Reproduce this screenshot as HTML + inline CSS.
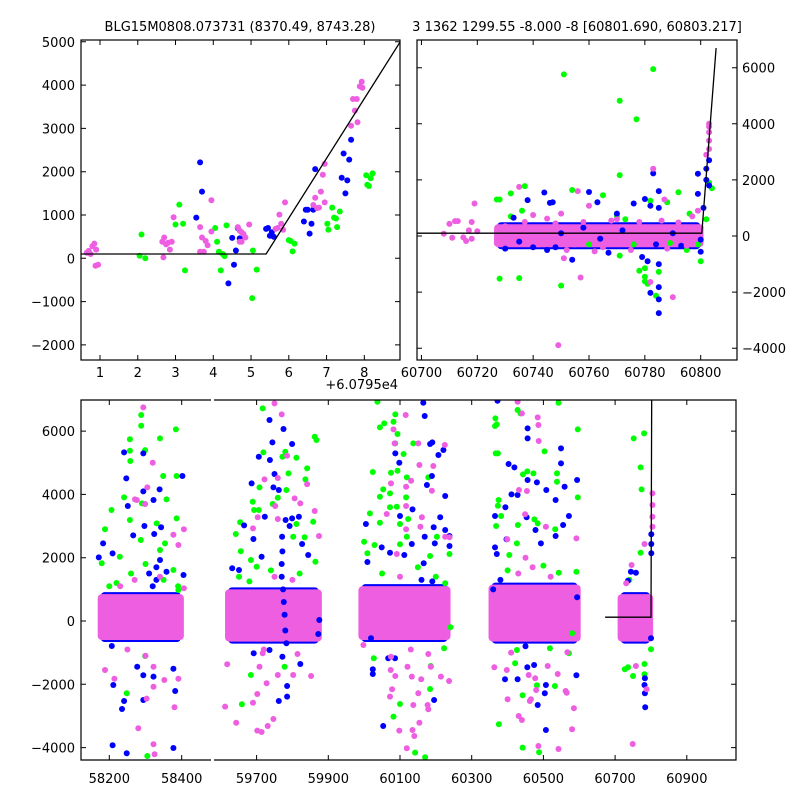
<!DOCTYPE html>
<html><head><meta charset="utf-8">
<style>
html,body{margin:0;padding:0;background:#fff;}
svg{display:block;font-family:"DejaVu Sans","Liberation Sans",sans-serif;font-size:13px;}
</style></head>
<body>
<svg id="chart" width="800" height="800" viewBox="0 0 800 800">
<defs>
<clipPath id="cTL"><rect x="81" y="40" width="319" height="320"/></clipPath>
<clipPath id="cTR"><rect x="417" y="40" width="320" height="320"/></clipPath>
<clipPath id="cB1"><rect x="81" y="400" width="130" height="360"/></clipPath>
<clipPath id="cB2"><rect x="214" y="400" width="522" height="360"/></clipPath>
</defs>
<rect width="800" height="800" fill="#fff"/>
<text x="240" y="31" text-anchor="middle">BLG15M0808.073731 (8370.49, 8743.28)</text>
<text x="577" y="31" text-anchor="middle">3 1362 1299.55 -8.000 -8 [60801.690, 60803.217]</text>
<text x="398" y="389" text-anchor="end">+6.0795e4</text>
<g id="gTL"></g>
<g id="gTR"></g>
<g id="gB"></g>
</svg>
<script>
// ---------- data: top-left zoom panel (x = MJD - 60795) ----------
const tlPink=[[0.65,130],[0.7,170],[0.75,100],[0.8,280],[0.85,340],[0.9,200],[0.88,-170],[0.95,-150],[2.65,380],[2.7,480],[2.75,320],[2.8,360],[2.85,200],[2.9,380],[2.68,20],[2.95,950],[3.65,720],[3.7,480],[3.8,400],[3.65,150],[3.75,150],[3.85,300],[3.95,620],[3.95,1340],[4.65,720],[4.7,640],[4.75,600],[4.8,560],[4.85,480],[4.7,380],[4.75,380],[4.95,780],[5.65,680],[5.7,700],[5.75,1010],[5.8,800],[5.85,660],[5.9,1290],[6.65,1230],[6.7,1400],[6.75,1160],[6.8,1170],[6.85,1540],[6.9,1930],[6.95,1290],[6.95,2180],[7.65,3060],[7.7,3680],[7.75,3410],[7.8,3680],[7.82,3140],[7.88,3970],[7.93,4077],[7.95,3940]];
const tlBlue=[[3.65,2215],[3.7,1540],[3.55,940],[4.5,470],[4.55,-150],[4.4,-580],[4.6,180],[4.65,700],[4.7,460],[5.4,680],[5.45,700],[5.5,520],[5.55,600],[5.6,500],[6.4,850],[6.45,1120],[6.5,1120],[6.55,570],[6.6,800],[6.65,1120],[6.7,2060],[7.4,1860],[7.45,2420],[7.5,1500],[7.55,1800],[7.6,2280],[7.65,2740]];
const tlGreen=[[2.05,60],[2.1,550],[2.2,0],[3.0,780],[3.1,1240],[3.2,800],[3.25,-280],[4.05,700],[4.1,380],[4.15,150],[4.2,-280],[4.25,100],[4.3,50],[4.35,760],[5.05,180],[5.03,-920],[5.15,-260],[6.0,420],[6.05,400],[6.1,160],[6.15,340],[7.05,660],[7.02,800],[7.15,1170],[7.2,940],[7.25,920],[7.28,720],[7.35,1080],[8.05,1920],[8.08,1700],[8.12,1670],[8.17,1850],[8.22,1960]];
const tlLineX=[0.47,5.4,8.95];
const tlLineY=[100,100,5000];
const tlXTicks=[1,2,3,4,5,6,7,8];
const tlYTicks=[-2000,-1000,0,1000,2000,3000,4000,5000];

// ---------- data: top-right panel ----------
const trCore=[[60726,60801,-400,420]];
const trPink=[[60708,80],[60710,430],[60711,-60],[60712,530],[60713,530],[60715,-50],[60716,-180],[60717,200],[60718,500],[60719,1160],[60720,170],[60718,-100],[60735,1750],[60749,-3890],[60751,-790],[60757,-1480],[60756,1600],[60760,1080],[60790,-2180],[60783,2400],[60782,-1640],[60787,1300],[60803,4000],[60803,3700],[60803,3400],[60803,3100],[60802,2900],[60803,3900],[60740,750],[60745,620],[60750,800],[60755,-300],[60765,-400],[60770,600],[60727,-250],[60730,350],[60797,700],[60799,900],[60728,100],[60733,-100],[60742,-300],[60752,-500],[60762,-550],[60775,-500],[60788,-450],[60795,-350],[60800,300],[60737,500],[60748,450],[60758,500],[60768,550],[60778,500],[60786,550],[60792,480]];
const trBlue=[[60738,1280],[60744,1550],[60746,1180],[60747,1200],[60760,1570],[60763,1200],[60776,1160],[60780,1320],[60782,1080],[60783,2230],[60785,1600],[60785,1000],[60785,-1000],[60785,-1820],[60785,-2260],[60785,-2750],[60782,-2030],[60781,-900],[60779,-750],[60754,-850],[60767,-600],[60730,-450],[60745,-500],[60748,-400],[60799,2220],[60799,1500],[60800,-560],[60800,-130],[60802,2400],[60802,2000],[60803,2700],[60803,1800],[60801,1000],[60740,-400],[60770,800],[60758,300],[60793,-350],[60733,650],[60735,-200],[60750,100],[60764,-100],[60772,200],[60784,-300],[60790,100]];
const trGreen=[[60727,1300],[60728,1300],[60728,-1520],[60732,1520],[60735,-1500],[60737,1780],[60732,700],[60736,900],[60750,-1770],[60751,5760],[60754,1640],[60765,1450],[60771,4820],[60771,2170],[60771,-700],[60777,4160],[60783,5950],[60778,-1240],[60780,-1150],[60780,-1450],[60780,-1620],[60781,-1700],[60784,-2130],[60785,-1280],[60782,1260],[60788,1200],[60792,1560],[60796,800],[60800,-900],[60803,1900],[60804,1700],[60802,600],[60799,-300],[60770,700],[60773,600],[60760,-300],[60795,-500],[60776,-300],[60789,-250]];
const trLineX=[60698,60800.4,60805.5];
const trLineY=[100,100,6700];
const trXTicks=[60700,60720,60740,60760,60780,60800];
const trYTicks=[-4000,-2000,0,2000,4000,6000];

// ---------- data: bottom full light curve ----------
const bCores=[[58168,58406,-600,850],[59612,59882,-650,1000],[59984,60241,-600,1100],[60347,60604,-650,1150],[60707,60806,-650,850]];
const bGreen=[[58288,6508],[58288,6170],[58257,5740],[58257,5380],[58258,5054],[58340,5770],[58384,6055],[58349,4580],[58386,4580],[58299,5400],[58241,3906],[58206,3506],[58188,2896],[58257,3190],[58290,3717],[58358,3843],[58386,3243],[58331,3085],[58248,-2285],[58305,-4265],[58299,-1105],[58354,2453],[58287,2559],[58229,2032],[58179,1822],[58377,1611],[58391,979],[58340,2243],[58220,1200],[58260,1500],[58300,1800],[58350,1300],[58390,1100],[58200,1100],
[59717,6718],[59719,5328],[59780,5349],[59772,5191],[59811,5159],[59789,4665],[59841,4823],[59836,4475],[59862,5823],[59867,5718],[59708,4222],[59689,3770],[59693,3506],[59706,3506],[59654,3117],[59642,2748],[59656,2201],[59759,3896],[59783,4138],[59745,3696],[59811,3064],[59802,2664],[59834,2643],[59858,3138],[59864,1874],[59700,1716],[59684,1927],[59651,1400],[59684,-1706],[59659,-2633],[59778,-1443],[59740,1600],[59820,1500],[59680,1250],
[60037,6929],[60087,6529],[60082,6297],[60056,6244],[60044,6118],[60093,5907],[60087,5612],[60137,5612],[60110,5275],[60093,4749],[60075,4686],[60024,4707],[60053,4159],[60044,3928],[60072,4033],[60117,3906],[60119,4538],[60179,4538],[60072,3591],[60091,3612],[60016,3401],[60044,3106],[60100,3064],[60123,3222],[60119,2664],[60000,2506],[60029,2401],[60009,2138],[60100,2422],[60184,2053],[60226,1190],[60238,2117],[60203,2664],[60027,-1179],[60100,-2622],[60082,-3022],[60142,-4159],[60184,-2148],[60186,-1422],[60170,-4307],[60223,-863],[60241,-200],[60050,1500],[60150,1700],[60200,1400],
[60428,6666],[60436,6560],[60365,6160],[60370,6212],[60366,6402],[60542,6897],[60596,6055],[60367,5296],[60373,5296],[60503,5360],[60443,4633],[60472,4665],[60455,4728],[60538,4665],[60538,4402],[60596,3906],[60375,3822],[60373,3643],[60382,3317],[60368,3001],[60475,3211],[60484,3085],[60533,2896],[60429,3032],[60426,2453],[60405,2085],[60543,1527],[60592,1558],[60580,-390],[60518,-863],[60482,-2032],[60442,-2348],[60376,-3264],[60442,-4001],[60488,-4149],[60421,-1337],[60532,-2053],[60571,-1021],[60426,-916],[60400,1600],[60500,1750],
[60781,5928],[60752,5770],[60771,4854],[60774,4159],[60771,2159],[60727,-1527],[60736,-1464],[60750,-1737],[60782,-1358],[60782,-1685],[60800,-895],[60740,1300]];
const bBlue=[[58241,5328],[58294,5296],[58247,4507],[58294,4096],[58251,3633],[58322,3822],[58339,4159],[58402,4580],[58183,2453],[58171,2011],[58209,2137],[58266,2706],[58297,3001],[58324,2748],[58343,2959],[58405,1453],[58211,-2022],[58241,-2527],[58235,-2780],[58294,-2496],[58322,-1758],[58209,-3928],[58248,-4180],[58377,-4012],[58382,-2211],[58377,-1506],[58294,-1716],[58277,-1443],[58207,-790],[58340,1927],[58358,1558],[58330,1300],[58310,1500],[58320,1100],[58330,1700],
[59686,4348],[59706,5191],[59737,5086],[59736,6350],[59744,5644],[59775,6065],[59799,5591],[59750,4644],[59747,4222],[59762,4138],[59781,3191],[59799,3243],[59818,3296],[59792,3001],[59665,3022],[59691,2590],[59714,2032],[59723,3296],[59771,2664],[59827,2432],[59872,-411],[59692,-1021],[59736,-916],[59772,-1127],[59785,-2054],[59785,-2390],[59762,-2527],[59822,-1358],[59783,-705],[59651,1611],[59632,1664],[59844,2085],[59875,32],[59770,1800],[59770,1400],[59772,2200],[59774,1000],[59776,600],[59778,200],[59780,-300],
[60165,6897],[60169,6476],[60190,5644],[60184,5591],[60221,5402],[60207,5244],[60087,5296],[60098,5002],[60189,4580],[60175,4296],[60226,3949],[60135,3527],[60100,3317],[60005,3064],[60212,3275],[60226,2875],[60238,2685],[60238,2370],[60194,2959],[60169,2664],[60197,2453],[60133,2432],[60112,2085],[60049,2327],[60072,2159],[60009,1864],[60166,1822],[60024,-1527],[60024,-1674],[60067,-1179],[60053,-3317],[60195,-2496],[60019,-548],[60086,-1179],[60160,1300],[60190,1250],
[60372,6960],[60456,6086],[60456,5770],[60403,4960],[60419,4854],[60482,4380],[60456,4454],[60508,4138],[60549,5454],[60549,4981],[60559,4244],[60594,4454],[60365,3317],[60394,3591],[60411,4001],[60428,3980],[60453,3275],[60478,2875],[60493,2453],[60534,3822],[60571,3317],[60555,3032],[60534,2685],[60397,2580],[60365,2327],[60370,2117],[60393,-1843],[60428,-1843],[60455,-1464],[60474,-1390],[60484,-2654],[60507,-2022],[60504,-2285],[60507,-3443],[60592,-1716],[60594,748],[60380,1300],[60360,1000],[60450,-800],
[60782,-2022],[60783,-2285],[60784,-2727],[60783,-1811],[60801,2738],[60801,2432],[60801,2138],[60800,-548],[60744,1558],[60758,1527],[60736,1274]];
const bPink=[[58294,6750],[58320,5002],[58305,4222],[58271,3843],[58299,3696],[58377,2727],[58406,2896],[58188,-1548],[58214,-1822],[58280,-3391],[58303,-2453],[58322,-3896],[58325,-4212],[58380,-2727],[58352,-1864],[58322,-1443],[58322,-2075],[58391,-1822],[58406,1032],[58340,1400],[58276,3822],[58391,2401],[58230,1100],[58270,1300],[58250,-900],[58300,-1100],
[59750,6876],[59770,6529],[59722,4475],[59759,4517],[59785,5223],[59841,4327],[59862,3475],[59874,2685],[59822,3717],[59806,3875],[59752,3633],[59703,3275],[59690,2927],[59759,3222],[59612,-2706],[59618,-1369],[59643,-3212],[59690,-2580],[59702,-3464],[59714,-3506],[59731,-3317],[59747,-3096],[59702,-2306],[59728,-1969],[59708,-1443],[59717,-1021],[59759,-1706],[59802,-1706],[59852,-1737],[59814,-1042],[59750,1400],[59800,1300],[59720,-900],
[60116,6508],[60082,6055],[60085,5612],[60151,5612],[60225,5560],[60154,4928],[60193,4896],[60131,4433],[60075,4349],[60117,4244],[60189,4117],[60117,3633],[60063,3380],[60161,3275],[60117,2896],[60157,2980],[60226,2664],[60238,2643],[60091,2117],[60075,-1127],[60074,-1548],[60087,-1737],[60078,-2159],[60072,-2390],[60098,-3464],[60119,-4022],[60137,-2654],[60135,-3443],[60140,-3633],[60154,-3212],[60151,-2285],[60159,-1843],[60179,-2790],[60177,-2654],[60186,-1443],[60214,-1758],[60237,-1896],[60133,-1758],[60121,-1443],[59998,-758],[60179,-1042],[60100,1400],[60130,-900],
[60428,6929],[60440,6560],[60484,6434],[60486,6192],[60487,5686],[60432,4138],[60454,4107],[60399,2580],[60507,2980],[60592,2611],[60449,3370],[60363,-1464],[60398,-1548],[60459,-1706],[60512,-1422],[60540,-1674],[60562,-2211],[60565,-2264],[60580,-3422],[60585,-2759],[60480,-2180],[60465,-2475],[60462,-2527],[60431,-3001],[60440,-3127],[60486,-3949],[60542,-4044],[60400,-2475],[60477,-1811],[60567,-990],[60450,2000],[60470,1700],[60430,1500],[60520,1400],[60410,-1000],
[60749,-3886],[60782,2432],[60788,-2159],[60758,-1422],[60804,4033],[60804,3664],[60804,3296],[60804,2980],[60731,1190],[60746,1769]];
const bLineX=[60672,60800,60802];
const bLineY=[120,120,7200];
const bYTicks=[-4000,-2000,0,2000,4000,6000];
const bXTicks1=[58200,58400];
const bXTicks2=[59700,59900,60100,60300,60500,60700,60900];

const GREEN="#00ff00", BLUE="#0000ff", PINK="#ee5ee0";
const NS="http://www.w3.org/2000/svg";
function mk(tag,attrs,parent){const e=document.createElementNS(NS,tag);for(const k in attrs)e.setAttribute(k,attrs[k]);parent.appendChild(e);return e;}

// axis functions
const xTL=v=>100+(v-1)*37.76, yTL=v=>258.3-v*0.0433;
const xTR=v=>477.3+(v-60720)*2.7925, yTR=v=>236-v*0.02805;
const xB=v=>v<59000?109.3+(v-58200)*0.362:471.7+(v-60300)*0.3585;
const yB=v=>621-v*0.03165;

function dots(g,pts,xf,yf,color,name){
  for(const p of pts){
    const c=mk('circle',{cx:xf(p[0]).toFixed(1),cy:yf(p[1]).toFixed(1),r:3,fill:color},g);
    
    
  }
}
function cores(g,arr,xf,yf,name){
  for(const c of arr){
    const x0=xf(c[0]),x1=xf(c[1]),y0=yf(c[3]),y1=yf(c[2]);
    const b=mk('rect',{x:x0+3,y:y0-2,width:x1-x0-6,height:y1-y0+4,rx:4,fill:BLUE},g);
    
    
    const r=mk('rect',{x:x0,y:y0,width:x1-x0,height:y1-y0,rx:4,fill:PINK},g);
    
    
  }
}
function line(g,xs,ys,xf,yf,name){
  const d=xs.map((v,i)=>(i?'L':'M')+xf(v).toFixed(1)+','+yf(ys[i]).toFixed(1)).join('');
  const p=mk('path',{d:d,fill:'none',stroke:'#000','stroke-width':1.3},g);
  
  
}
function txt(g,x,y,s,anchor,name){
  const t=mk('text',{x:x,y:y,'text-anchor':anchor},g);t.textContent=s;
  
  
}
function fmt(v){return v<0?'\u2212'+(-v):String(v);}

// ---- top-left ----
(function(){
  const g=document.getElementById('gTL');
  const pg=mk('g',{'clip-path':'url(#cTL)'},g);
  dots(pg,tlGreen,xTL,yTL,GREEN,'green-point');
  dots(pg,tlBlue,xTL,yTL,BLUE,'blue-point');
  dots(pg,tlPink,xTL,yTL,PINK,'pink-point');
  line(pg,tlLineX,tlLineY,xTL,yTL,'model-line');
  const f=mk('rect',{x:81,y:40,width:319,height:320,fill:'none',stroke:'#000','stroke-width':1.2},g);
  
  
  for(const t of tlXTicks){const x=xTL(t);mk('path',{d:`M${x},360v-5M${x},40v5`,stroke:'#000'},g);txt(g,x,377,String(t),'middle','x-tick-label');}
  for(const t of tlYTicks){const y=yTL(t);mk('path',{d:`M81,${y}h5M400,${y}h-5`,stroke:'#000'},g);txt(g,75,y+5,fmt(t),'end','y-tick-label');}
})();

// ---- top-right ----
(function(){
  const g=document.getElementById('gTR');
  const pg=mk('g',{'clip-path':'url(#cTR)'},g);
  cores(pg,trCore,xTR,yTR,'dense-core');
  dots(pg,trGreen,xTR,yTR,GREEN,'green-point');
  dots(pg,trBlue,xTR,yTR,BLUE,'blue-point');
  dots(pg,trPink,xTR,yTR,PINK,'pink-point');
  line(pg,trLineX,trLineY,xTR,yTR,'model-line');
  const f=mk('rect',{x:417,y:40,width:320,height:320,fill:'none',stroke:'#000','stroke-width':1.2},g);
  
  
  for(const t of trXTicks){const x=xTR(t);mk('path',{d:`M${x},360v-5M${x},40v5`,stroke:'#000'},g);txt(g,x,377,String(t),'middle','x-tick-label');}
  for(const t of trYTicks){const y=yTR(t);mk('path',{d:`M417,${y}h5M737,${y}h-5`,stroke:'#000'},g);txt(g,742,y+5,fmt(t),'start','y-tick-label');}
})();

// ---- bottom ----
(function(){
  const g=document.getElementById('gB');
  for(const seg of ['cB1','cB2']){
    const pg=mk('g',{'clip-path':`url(#${seg})`},g);
    cores(pg,bCores,xB,yB,'dense-core');
    dots(pg,bGreen,xB,yB,GREEN,'green-point');
    dots(pg,bBlue,xB,yB,BLUE,'blue-point');
    dots(pg,bPink,xB,yB,PINK,'pink-point');
    if(seg==='cB2')line(pg,bLineX,bLineY,xB,yB,'model-line');
  }
  const s=mk('path',{d:'M211,400H81V760H211M214,400H736V760H214',fill:'none',stroke:'#000','stroke-width':1.2},g);
  
  
  for(const t of bXTicks1.concat(bXTicks2)){const x=xB(t);mk('path',{d:`M${x},760v-5M${x},400v5`,stroke:'#000'},g);txt(g,x,783,String(t),'middle','x-tick-label');}
  for(const t of bYTicks){const y=yB(t);mk('path',{d:`M81,${y}h5M736,${y}h-5`,stroke:'#000'},g);txt(g,75,y+5,fmt(t),'end','y-tick-label');}
})();
</script>
</body></html>
